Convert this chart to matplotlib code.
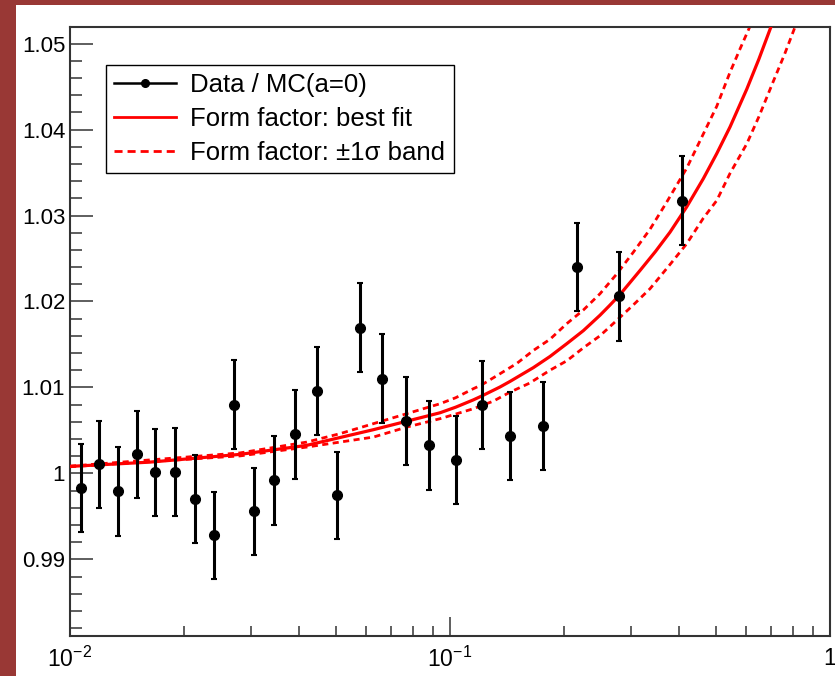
import numpy as np
import matplotlib.pyplot as plt
from matplotlib.lines import Line2D
from matplotlib.patches import Rectangle
from matplotlib.ticker import FixedLocator, FixedFormatter, MultipleLocator, LogLocator, NullFormatter

plt.rcParams['font.family'] = ['Liberation Sans', 'DejaVu Sans']
plt.rcParams['mathtext.fontset'] = 'custom'
plt.rcParams['mathtext.rm'] = 'Liberation Sans'
plt.rcParams['mathtext.it'] = 'Liberation Sans:italic'
plt.rcParams['mathtext.bf'] = 'Liberation Sans:bold'

# --- data points: Data / MC(a=0) ---
x_data = [0.01067, 0.01194, 0.01338, 0.01498, 0.01677, 0.01893, 0.02129, 0.02398,
          0.02701, 0.03055, 0.03442, 0.03916, 0.04459, 0.05051, 0.05798, 0.06634,
          0.07645, 0.08821, 0.1035, 0.1212, 0.1439, 0.1754, 0.2163, 0.2790, 0.4071]
y_data = [0.99829, 1.00105, 0.99791, 1.00221, 1.00015, 1.00015, 0.99701, 0.99279,
          1.00799, 0.99558, 0.99919, 1.00453, 1.00957, 0.99744, 1.01694, 1.01101,
          1.00608, 1.00326, 1.00151, 1.00799, 1.00434, 1.00550, 1.02399, 1.02058, 1.03174]
y_err = [0.00514, 0.00508, 0.00515, 0.00510, 0.00506, 0.00514, 0.00510, 0.00510,
         0.00515, 0.00506, 0.00514, 0.00517, 0.00514, 0.00506, 0.00519, 0.00516,
         0.00513, 0.00517, 0.00512, 0.00513, 0.00510, 0.00512, 0.00513, 0.00519, 0.00522]

# --- form factor best fit ---
x_fit = [0.01, 0.01624, 0.02801, 0.04197, 0.06284, 0.09413, 0.1035, 0.1152, 0.1212,
         0.1354, 0.1439, 0.1657, 0.1833, 0.2028, 0.2243, 0.2482, 0.2626, 0.2801,
         0.3162, 0.3471, 0.3793, 0.4196, 0.4643, 0.5034, 0.5456, 0.6039, 0.6500, 0.7000]
y_fit = [1.00081, 1.00131, 1.00221, 1.00326, 1.00508, 1.00705, 1.00770, 1.00855, 1.00900,
         1.01005, 1.01070, 1.01230, 1.01360, 1.01508, 1.01660, 1.01840, 1.01950, 1.02080,
         1.02360, 1.02580, 1.02806, 1.03100, 1.03430, 1.03720, 1.04030, 1.04470, 1.04820,
         1.05200]

# --- +1 sigma edge ---
x_up = [0.01, 0.02801, 0.04197, 0.05135, 0.06284, 0.07691, 0.09413, 0.1035, 0.1152,
        0.1212, 0.1354, 0.1500, 0.1657, 0.1833, 0.2028, 0.2243, 0.2482, 0.2747, 0.3037,
        0.3360, 0.3717, 0.4196, 0.4643, 0.5034, 0.5456, 0.5800, 0.6200]
y_up = [1.00084, 1.00238, 1.00364, 1.00462, 1.00578, 1.00694, 1.00810, 1.00880, 1.00985,
        1.01030, 1.01159, 1.01280, 1.01430, 1.01560, 1.01741, 1.01900, 1.02090, 1.02320,
        1.02573, 1.02840, 1.03155, 1.03550, 1.03950, 1.04270, 1.04666, 1.04940, 1.05230]

# --- -1 sigma edge ---
x_lo = [0.01, 0.02801, 0.04197, 0.05135, 0.06284, 0.07691, 0.09413, 0.1035, 0.1152,
        0.1300, 0.1439, 0.1620, 0.1833, 0.2030, 0.2243, 0.2480, 0.2747, 0.3037, 0.3360,
        0.3793, 0.4196, 0.4643, 0.5034, 0.5456, 0.6039, 0.6500, 0.7092, 0.7600, 0.8150]
y_lo = [1.00077, 1.00203, 1.00306, 1.00364, 1.00422, 1.00538, 1.00636, 1.00690, 1.00752,
        1.00840, 1.00945, 1.01050, 1.01200, 1.01310, 1.01460, 1.01600, 1.01780, 1.01960,
        1.02148, 1.02430, 1.02671, 1.02970, 1.03174, 1.03490, 1.03834, 1.04150, 1.04560,
        1.04880, 1.05230]

# axis ticks / labels
xtick_vals = [0.01, 0.1, 1]
xtick_labels = [r'$10^{-2}$', r'$10^{-1}$', '1']
ytick_vals = [0.99, 1.00, 1.01, 1.02, 1.03, 1.04, 1.05]
ytick_labels = ['0.99', '1', '1.01', '1.02', '1.03', '1.04', '1.05']

legend_labels = ['Data / MC(a=0)', 'Form factor: best fit', 'Form factor: \u00b11\u03c3 band']

# --- figure ---
W, H = 835, 676
fig = plt.figure(figsize=(W / 100, H / 100), dpi=100, facecolor='#993835')
fig.patches.append(Rectangle((16 / W, 0), 1, 1 - 5 / H, transform=fig.transFigure,
                             facecolor='white', edgecolor='none', zorder=-5))
ax = fig.add_axes([70 / W, 40 / H, 760 / W, 609 / H])
ax.set_zorder(2)

dash_band = (0, (2.2, 1.6))
ax.plot(x_up, y_up, color='red', lw=2.0, ls=dash_band, zorder=2)
ax.plot(x_lo, y_lo, color='red', lw=2.0, ls=dash_band, zorder=2)
ax.plot(x_fit, y_fit, color='red', lw=2.3, zorder=3)
ax.errorbar(x_data, y_data, yerr=y_err, fmt='o', color='black', ms=7,
            elinewidth=2.2, capsize=2.2, capthick=1.5, zorder=5)

ax.set_xscale('log')
ax.set_xlim(0.01, 1)
ax.set_ylim(0.98108, 1.05193)

ax.xaxis.set_major_locator(FixedLocator(xtick_vals))
ax.xaxis.set_major_formatter(FixedFormatter(xtick_labels))
ax.xaxis.set_minor_locator(LogLocator(base=10, subs=np.arange(2, 10)))
ax.xaxis.set_minor_formatter(NullFormatter())
ax.yaxis.set_major_locator(FixedLocator(ytick_vals))
ax.yaxis.set_major_formatter(FixedFormatter(ytick_labels))
ax.yaxis.set_minor_locator(MultipleLocator(0.002))

tick_col = '#333333'
ax.tick_params(which='both', direction='in', top=False, right=False, color=tick_col)
ax.tick_params(axis='y', which='major', length=16.5, width=1.1, labelsize=16, pad=3.5)
ax.tick_params(axis='y', which='minor', length=8.6, width=1.1)
ax.tick_params(axis='x', which='major', length=13.7, width=1.1, labelsize=16.5, pad=8)
ax.tick_params(axis='x', which='minor', length=7.2, width=1.1)
for sp in ax.spines.values():
    sp.set_linewidth(1.5)
    sp.set_color(tick_col)

handles = [
    Line2D([], [], color='black', lw=1.8, marker='o', ms=5.5),
    Line2D([], [], color='red', lw=2.0),
    Line2D([], [], color='red', lw=2.0, ls=(0, (2.9, 1.8))),
]
leg = ax.legend(handles, legend_labels, loc='upper left', bbox_to_anchor=(0.047, 0.9376),
                borderaxespad=0, fancybox=False, edgecolor='black', framealpha=1,
                fontsize=18.5, handlelength=2.4, handletextpad=0.56,
                borderpad=0.33, labelspacing=0.38)
leg.get_frame().set_linewidth(1.0)

fig.savefig('out.png', dpi=100, facecolor=fig.get_facecolor())
